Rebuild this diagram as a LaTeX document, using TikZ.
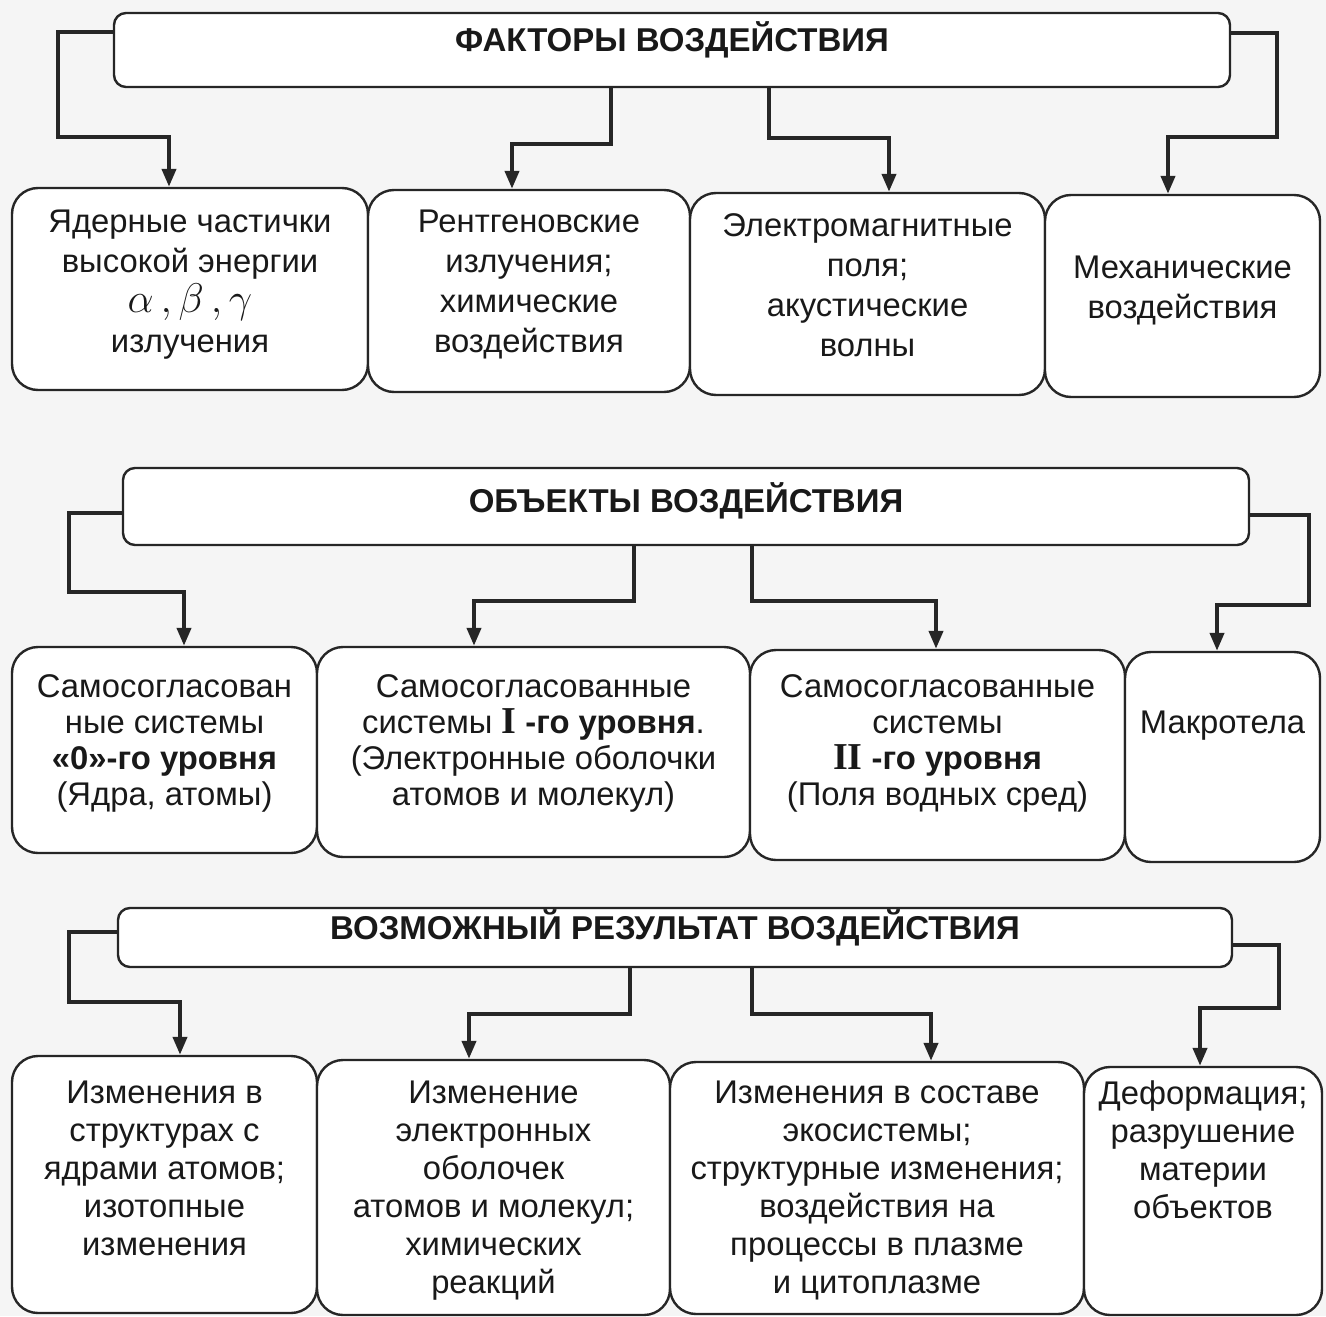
\documentclass[tikz,border=0pt]{standalone}
\usepackage{fontspec}
\setmainfont{Liberation Sans}
\newfontfamily\romanfont{Liberation Serif}
\usetikzlibrary{positioning,arrows.meta}

\begin{document}
\begin{tikzpicture}[x=0.5pt, y=-0.5pt, >={Triangle[length=9pt,width=7pt]}, line join=miter]

% --- Global TikZ Styles ---
\tikzset{
    header/.style={
        draw=black!85,
        fill=white,
        line width=1.2pt,
        rounded corners=6pt,
        text=black!90,
        font=\fontsize{16.5}{20}\selectfont\bfseries
    },
    cell/.style={
        draw=black!85,
        fill=white,
        line width=1.2pt,
        rounded corners=13pt,
        inner sep=0pt
    },
    celltext/.style={
        align=center,
        inner sep=0pt,
        text=black!90,
        font=\fontsize{16.4}{19}\selectfont
    },
    link/.style={
        ->,
        draw=black!85,
        line width=2pt
    }
}

% --- Page ---
\useasboundingbox (0,0) rectangle (1326,1316);
\fill[black!4] (0,0) rectangle (1326,1316);

% =========================================================================
% --- Factors ---
% =========================================================================

\node[header, minimum width=558pt, minimum height=37pt] (fak) at (672,50)
    {\raisebox{5pt}[\height][\depth]{ФАКТОРЫ ВОЗДЕЙСТВИЯ}};

\node[cell, minimum width=178pt,   minimum height=101pt] (yad)  at (190,289)    {};
\node[cell, minimum width=161pt,   minimum height=101pt] (rent) at (529,291)    {};
\node[cell, minimum width=177.5pt, minimum height=101pt] (elm)  at (867.5,294)  {};
\node[cell, minimum width=137.5pt, minimum height=101pt] (mech) at (1182.5,296) {};

\tikzset{celltext/.append style={font=\fontsize{16.4}{20}\selectfont}}

\node[celltext, below=11.5pt of yad.north] (yadtxt)
    {Ядерные частички\\высокой энергии\\
     {\fontsize{21}{20}\selectfont$\alpha\,,\beta\,,\gamma$}\\излучения};
\node[celltext, below=10.5pt of rent.north] (renttxt)
    {Рентгеновские\\излучения;\\химические\\воздействия};
\node[celltext, below=10.5pt of elm.north] (elmtxt)
    {Электромагнитные\\поля;\\акустические\\волны};
\node[celltext, below=31pt of mech.north] (mechtxt)
    {Механические\\воздействия};

% --- Links ---
\draw[link] ([yshift=9pt]fak.west) -- ++(-55,0) -- ++(0,105)
    -| ([xshift=-10.5pt]yad.north);
\draw[link] ([xshift=-30.5pt]fak.south) -- ++(0,56)
    -| ([xshift=-8.5pt]rent.north);
\draw[link] ([xshift=48.5pt]fak.south) -- ++(0,50)
    -| ([xshift=10.75pt]elm.north);
\draw[link] ([yshift=8.5pt]fak.east) -- ++(46,0) -- ++(0,104)
    -| ([xshift=-7.25pt]mech.north);

% =========================================================================
% --- Objects ---
% =========================================================================

\node[header, minimum width=563pt, minimum height=38.5pt] (obj) at (686,506.5)
    {\raisebox{3pt}[\height][\depth]{ОБЪЕКТЫ ВОЗДЕЙСТВИЯ}};

\node[cell, minimum width=152.5pt, minimum height=103pt] (samo0) at (164.5,750)  {};
\node[cell, minimum width=216.5pt, minimum height=105pt] (samo1) at (533.5,752)  {};
\node[cell, minimum width=187.5pt, minimum height=105pt] (samo2) at (937.5,755)  {};
\node[cell, minimum width=97.5pt,  minimum height=105pt] (makro) at (1222.5,757) {};

\tikzset{celltext/.append style={font=\fontsize{16.4}{18}\selectfont}}

\node[celltext, below=14pt of samo0.north] (samo0txt)
    {Самосогласован\\ные системы\\\textbf{«0»-го уровня}\\(Ядра, атомы)};
\node[celltext, below=14pt of samo1.north] (samo1txt)
    {Самосогласованные\\системы {\romanfont\bfseries\fontsize{19}{18}\selectfont I}
     \textbf{-го уровня}.\\(Электронные оболочки\\атомов и молекул)};
\node[celltext, below=12.5pt of samo2.north] (samo2txt)
    {Самосогласованные\\системы\\{\romanfont\bfseries\fontsize{19}{18}\selectfont II}
     \textbf{-го уровня}\\(Поля водных сред)};
\node[celltext, below=30pt of makro.north] (makrotxt) {Макротела};

% --- Links ---
\draw[link] ([yshift=-3.25pt]obj.west) -- ++(-53,0) -- ++(0,79)
    -| ([xshift=9.75pt]samo0.north);
\draw[link] ([xshift=-26pt]obj.south) -- ++(0,55)
    -| ([xshift=-29.75pt]samo1.north);
\draw[link] ([xshift=33pt]obj.south) -- ++(0,55)
    -| ([xshift=-0.75pt]samo2.north);
\draw[link] ([yshift=-4.25pt]obj.east) -- ++(59,0) -- ++(0,90)
    -| ([xshift=-2.75pt]makro.north);

% =========================================================================
% --- Results ---
% =========================================================================

\node[header, minimum width=557pt, minimum height=29.5pt] (res) at (675,937.5)
    {\raisebox{5pt}[\height][\depth]{ВОЗМОЖНЫЙ РЕЗУЛЬТАТ ВОЗДЕЙСТВИЯ}};

\node[cell, minimum width=152.5pt, minimum height=128.5pt] (izm1) at (164.5,1184.5) {};
\node[cell, minimum width=176.5pt, minimum height=127.5pt] (izm2) at (493.5,1187.5) {};
\node[cell, minimum width=207pt,   minimum height=126pt]   (izm3) at (877,1188)     {};
\node[cell, minimum width=119pt,   minimum height=124pt]   (izm4) at (1203,1191)    {};

\tikzset{celltext/.append style={font=\fontsize{16.4}{19}\selectfont}}

\node[celltext, below=13pt of izm1.north] (izm1txt)
    {Изменения в\\структурах с\\ядрами атомов;\\изотопные\\изменения};
\node[celltext, below=11pt of izm2.north] (izm2txt)
    {Изменение\\электронных\\оболочек\\атомов и молекул;\\химических\\реакций};
\node[celltext, below=10pt of izm3.north] (izm3txt)
    {Изменения в составе\\экосистемы;\\структурные изменения;\\воздействия на\\процессы в плазме\\и цитоплазме};
\node[celltext, below=7.5pt of izm4.north] (izm4txt)
    {Деформация;\\разрушение\\материи\\объектов};

% --- Links ---
\draw[link] ([yshift=2.75pt]res.west) -- ++(-48,0) -- ++(0,70)
    -| ([xshift=7.75pt]izm1.north);
\draw[link] ([xshift=-22.5pt]res.south) -- ++(0,46)
    -| ([xshift=-12.25pt]izm2.north);
\draw[link] ([xshift=38.5pt]res.south) -- ++(0,46)
    -| ([xshift=27pt]izm3.north);
\draw[link] ([yshift=-3.75pt]res.east) -- ++(46,0) -- ++(0,63)
    -| ([xshift=-1.5pt]izm4.north);

\end{tikzpicture}
\end{document}
